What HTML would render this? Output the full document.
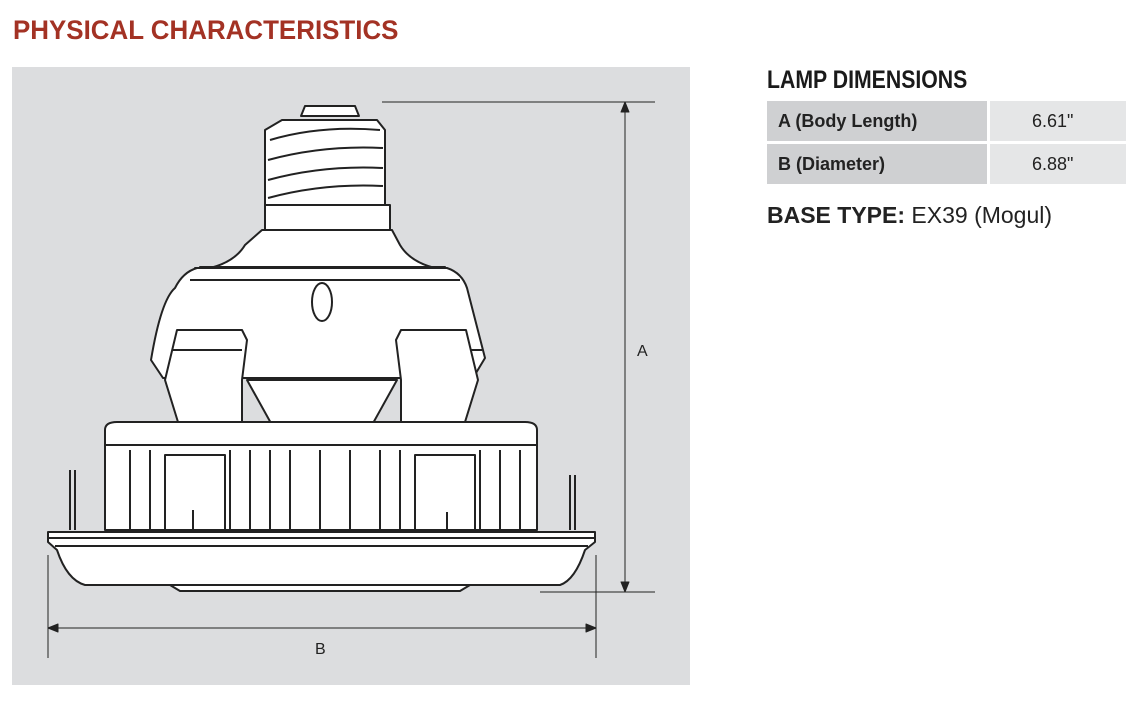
<!DOCTYPE html>
<html><head><style>
body{margin:0;width:1142px;height:716px;background:#fff;position:relative;font-family:"Liberation Sans",sans-serif;overflow:hidden}
.t{position:absolute;white-space:nowrap;transform-origin:left top}
</style></head><body>
<div class="t" style="left:13px;top:15px;font-size:27px;font-weight:bold;color:#a33224;transform:scaleX(0.96)">PHYSICAL CHARACTERISTICS</div>
<div style="position:absolute;left:12px;top:67px;width:678px;height:618px;background:#dcdddf"></div>
<div class="t" style="left:767px;top:66px;font-size:25px;font-weight:bold;color:#1a1a1a;transform:scaleX(0.85)">LAMP DIMENSIONS</div>
<div style="position:absolute;left:767px;top:101px;width:220px;height:40px;background:#cfd0d2"></div>
<div style="position:absolute;left:990px;top:101px;width:136px;height:40px;background:#e5e6e7"></div>
<div style="position:absolute;left:767px;top:144px;width:220px;height:40px;background:#cfd0d2"></div>
<div style="position:absolute;left:990px;top:144px;width:136px;height:40px;background:#e5e6e7"></div>
<div class="t" style="left:778px;top:111px;font-size:18px;font-weight:bold;color:#222">A (Body Length)</div>
<div class="t" style="left:1032px;top:111px;font-size:18px;color:#222">6.61"</div>
<div class="t" style="left:778px;top:154px;font-size:18px;font-weight:bold;color:#222">B (Diameter)</div>
<div class="t" style="left:1032px;top:154px;font-size:18px;color:#222">6.88"</div>
<div class="t" style="left:767px;top:202px;font-size:23px;color:#222"><b>BASE TYPE:</b> EX39 (Mogul)</div>
<svg style="position:absolute;left:0;top:0" width="1142" height="716" fill="#fff" stroke="#222" stroke-width="2" stroke-linejoin="round">
<g stroke-width="1" fill="#222">
<line x1="382" y1="102" x2="655" y2="102"/><line x1="540" y1="592" x2="655" y2="592"/>
<line x1="625" y1="104" x2="625" y2="590"/>
<path d="M625 102 l-4 10 h8z M625 592 l-4 -10 h8z"/>
<line x1="48" y1="555" x2="48" y2="658"/><line x1="596" y1="555" x2="596" y2="658"/>
<line x1="50" y1="628" x2="594" y2="628"/>
<path d="M48 628 l10 -4 v8z M596 628 l-10 -4 v8z"/>
</g>
<text x="637" y="356" font-size="16" fill="#222" stroke="none" font-family="Liberation Sans">A</text>
<text x="315" y="654" font-size="16" fill="#222" stroke="none" font-family="Liberation Sans">B</text>
<path d="M305 106 h50 l4 10 h-58z"/>
<path d="M282 120 h95 l8 10 v75 h-120 v-75z"/>
<g fill="none"><path d="M270 140 q50 -15 110 -10 M268 160 q55 -15 115 -12 M268 180 q55 -15 115 -12 M268 198 q55 -15 115 -12"/></g>
<rect x="265" y="205" width="125" height="25"/>
<path d="M262 230 h130 l8 15 q12 20 45 25 l0 -3 h-245 l0 3 q33 -5 45 -25z"/>
<path d="M195 268 h252 q15 5 20 20 l18 70 l-12 20 h-310 l-12 -18 q10 -60 24 -72 q8 -16 22 -20z"/>
<line x1="190" y1="280" x2="460" y2="280"/>
<ellipse cx="322" cy="302" rx="10" ry="19"/>
<path d="M165 380 l12 -50 h65 l5 10 l-5 40 l0 55 h-60 z"/>
<path d="M172 350 h70 M482 350 h-70"/>
<path d="M478 380 l-12 -50 h-65 l-5 10 l5 40 l0 55 h60 z"/>
<path d="M247 380 l25 45 h100 l25 -45 z"/>
<path d="M105 430 q0 -8 12 -8 h408 q12 0 12 8 v100 h-432z"/>
<line x1="105" y1="445" x2="537" y2="445"/>
<g fill="none">
<path d="M130 450 v80 M150 450 v80 M230 450 v80 M250 450 v80 M270 450 v80 M290 450 v80 M320 450 v80 M350 450 v80 M380 450 v80 M400 450 v80 M480 450 v80 M500 450 v80 M520 450 v80"/>
<rect x="165" y="455" width="60" height="75"/><rect x="415" y="455" width="60" height="75"/>
<path d="M70 470 v60 M75 470 v60 M570 475 v55 M575 475 v55 M193 510 v20 M447 512 v18"/>
</g>
<path d="M48 532 h547 v10 l-10 8 q-10 30 -25 35 h-475 q-18 -5 -28 -35 l-9 -8 z"/>
<g fill="none"><line x1="48" y1="538" x2="595" y2="538"/><line x1="55" y1="546" x2="588" y2="546"/></g>
<path d="M170 585 h300 l-10 6 h-280z"/>
</svg>
</body></html>
